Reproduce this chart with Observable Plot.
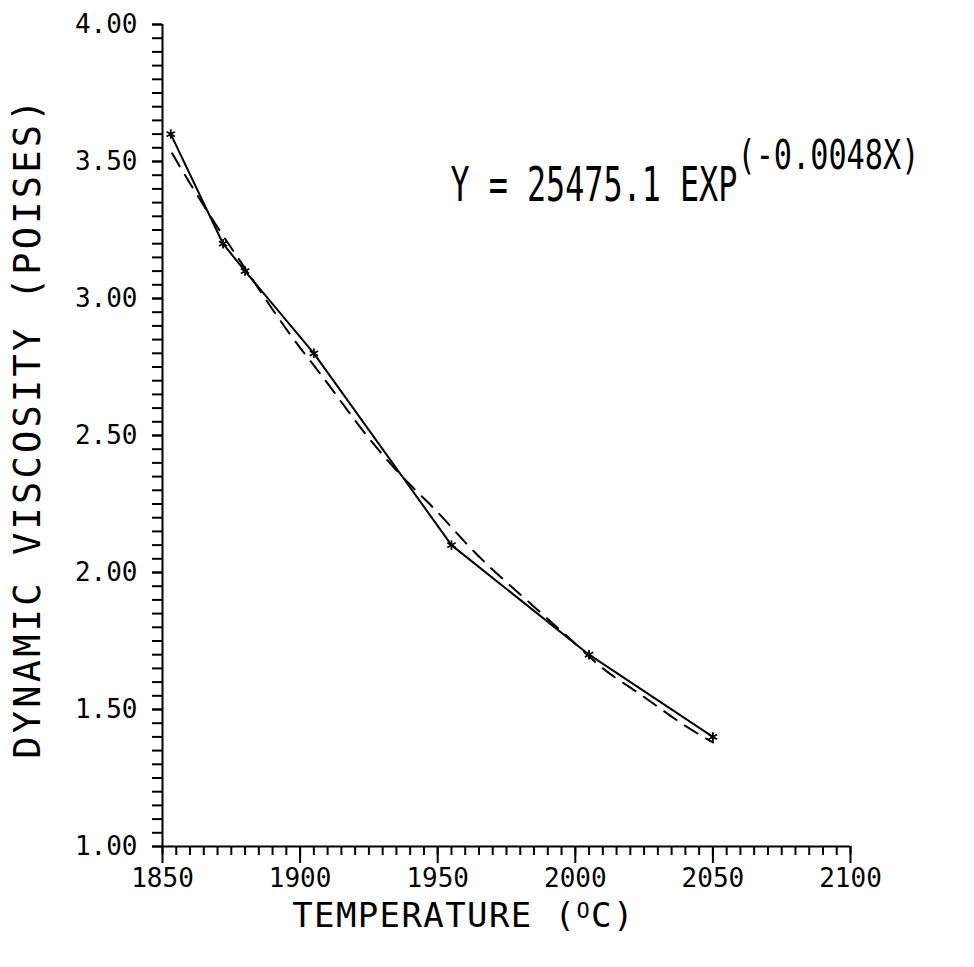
<!DOCTYPE html>
<html>
<head>
<meta charset="utf-8">
<script src="https://cdn.jsdelivr.net/npm/d3@7"></script>
<script src="https://cdn.jsdelivr.net/npm/@observablehq/plot@0.6"></script>
<style>
  html, body { margin: 0; padding: 0; background: #fff; }
  svg text { font-family: "DejaVu Sans Mono", monospace; }
</style>
</head>
<body>
<div id="chart"></div>
<script>
// Measured data (temperature in °C, dynamic viscosity in poises)
const temps = [1853, 1872, 1880, 1905, 1955, 2005, 2050];
const visc  = [3.60, 3.20, 3.10, 2.80, 2.10, 1.70, 1.40];

// Fitted curve
const fitTemps = [1853.5, 1860, 1870, 1880, 1890, 1900, 1910, 1925, 1940, 1950, 1960, 1970, 1980, 1990, 2000, 2010, 2020, 2030, 2040, 2050];
const fitVisc  = [3.53, 3.42, 3.26, 3.11, 2.96, 2.82, 2.69, 2.49, 2.32, 2.22, 2.11, 2.01, 1.92, 1.83, 1.74, 1.65, 1.58, 1.51, 1.44, 1.38];

// Axis ticks and labels
const xMajorTicks = [1850, 1900, 1950, 2000, 2050, 2100];
const xMinorStep = 5;
const yMajorTicks = [1.00, 1.50, 2.00, 2.50, 3.00, 3.50, 4.00];
const yMinorStep = 0.05;

const xTitle = "TEMPERATURE (OC)";
const yTitle = "DYNAMIC VISCOSITY (POISES)";
const eqMain = "Y = 25475.1 EXP";
const eqSup = "(-0.0048X)";

const measured = temps.map((t, i) => ({t, v: visc[i]}));
const fitted = fitTemps.map((t, i) => ({t, v: fitVisc[i]}));

const xMinorTicks = d3.range(1850, 2100 + 1e-9, xMinorStep);
const yMinorTicks = d3.range(0, 61).map(i => 1 + i * yMinorStep);

const chart = Plot.plot({
  width: 974,
  height: 967,
  marginLeft: 162,
  marginRight: 124,
  marginTop: 24,
  marginBottom: 121,
  style: {background: "#fff", color: "#000", fontFamily: "DejaVu Sans Mono", overflow: "visible"},
  x: {domain: [1850, 2100], axis: null},
  y: {domain: [1, 4], axis: null},
  marks: [
    // minor ticks
    Plot.axisY({ticks: yMinorTicks, tickSize: 10, tickFormat: () => "", label: null, strokeWidth: 2}),
    Plot.axisX({ticks: xMinorTicks, tickSize: 9, tickFormat: () => "", label: null, strokeWidth: 2}),
    // major ticks with labels
    Plot.axisY({ticks: yMajorTicks, tickSize: 10, tickPadding: 15, tickFormat: d3.format(".2f"), fontSize: 26, label: null, strokeWidth: 2}),
    Plot.axisX({ticks: xMajorTicks, tickSize: 17, tickPadding: 5, tickFormat: d => String(d), fontSize: 26, label: null, strokeWidth: 2}),
    // axis lines
    Plot.ruleX([1850], {strokeWidth: 2}),
    Plot.ruleY([1], {strokeWidth: 2}),
    // fitted curve (dashed)
    Plot.line(fitted, {x: "t", y: "v", curve: "natural", stroke: "#000", strokeWidth: 2, strokeDasharray: "15,10"}),
    // measured data (solid with stars)
    Plot.line(measured, {x: "t", y: "v", stroke: "#000", strokeWidth: 2}),
    Plot.dot(measured, {x: "t", y: "v", symbol: "asterisk", r: 4.5, stroke: "#000", strokeWidth: 1.8}),
    // titles
    Plot.text([xTitle], {frameAnchor: "bottom", dx: -43, dy: 70, lineAnchor: "middle", textAnchor: "middle", fontSize: 34, fill: "#000"}),
    Plot.text([yTitle], {frameAnchor: "left", dx: -134, dy: -8, rotate: -90, lineAnchor: "middle", textAnchor: "middle", fontSize: 37, fill: "#000"}),
    // equation
    Plot.text([eqMain], {frameAnchor: "top-left", dx: 288, dy: 176, lineAnchor: "bottom", textAnchor: "start", fontSize: 48, fill: "#000"}),
    Plot.text([eqSup], {frameAnchor: "top-left", dx: 575, dy: 144, lineAnchor: "bottom", textAnchor: "start", fontSize: 41, fill: "#000"})
  ]
});

document.getElementById("chart").appendChild(chart);

// Post-process typography to mimic the narrow plotter lettering
function squeeze(el, sx) {
  const t = el.getAttribute("transform") || "";
  el.setAttribute("transform", (t + ` scale(${sx},1)`).trim());
}
chart.querySelectorAll("text").forEach(el => {
  const s = el.textContent;
  if (s === eqMain) {
    squeeze(el, 0.662);
  } else if (s === eqSup) {
    squeeze(el, 0.737);
  } else if (s === yTitle) {
    el.style.letterSpacing = "3.2px";
  } else if (s === xTitle) {
    el.style.letterSpacing = "1.4px";
    el.textContent = "";
    const ns = "http://www.w3.org/2000/svg";
    const a = document.createElementNS(ns, "tspan"); a.textContent = "TEMPERATURE (";
    const b = document.createElementNS(ns, "tspan"); b.textContent = "O";
    b.setAttribute("font-size", 22); b.setAttribute("dy", "-9");
    const c = document.createElementNS(ns, "tspan"); c.textContent = "C)";
    c.setAttribute("dy", "9");
    el.appendChild(a); el.appendChild(b); el.appendChild(c);
  }
});
</script>
</body>
</html>
